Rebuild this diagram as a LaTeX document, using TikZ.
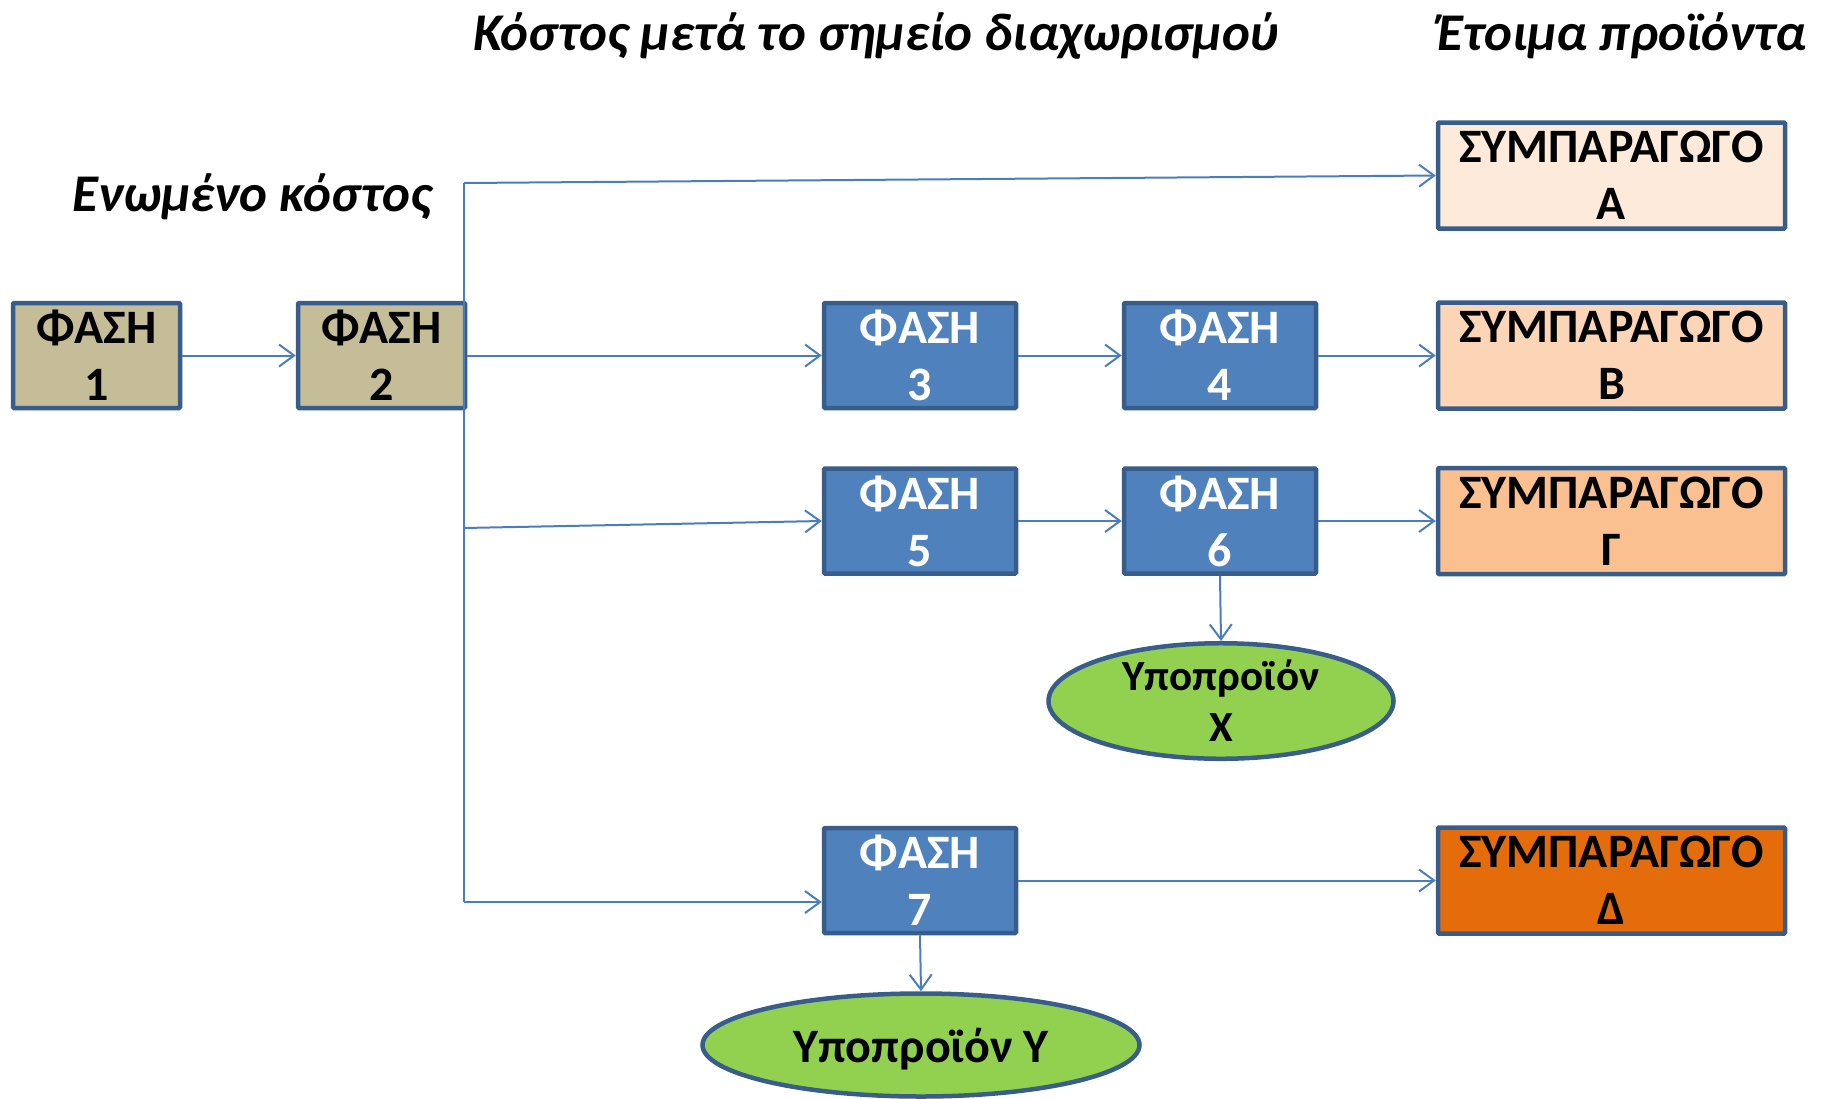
\documentclass[tikz,border=0pt]{standalone}
\usepackage{fontspec}
\setmainfont{Carlito}
\usetikzlibrary{arrows.meta,shapes.geometric}
\definecolor{bordc}{HTML}{385D8A}
\definecolor{linec}{HTML}{4A7EBB}
\definecolor{tanc}{HTML}{C4BD97}
\definecolor{bluec}{HTML}{4F81BD}
\definecolor{pa}{HTML}{FDEADA}
\definecolor{pb}{HTML}{FBD5B5}
\definecolor{pg}{HTML}{FAC090}
\definecolor{pd}{HTML}{E46C0A}
\definecolor{greenc}{HTML}{92D050}
\tikzset{
  boxbase/.style={draw=bordc, line width=4.5pt, inner sep=0pt, align=center,
    font=\fontsize{48}{57}\selectfont\bfseries, rounded corners=1pt},
  tanbox/.style={boxbase, fill=tanc, minimum width=167pt, minimum height=105pt},
  bluebox/.style={boxbase, fill=bluec, text=white, minimum width=192pt, minimum height=105pt},
  prodbox/.style={boxbase, minimum width=347pt, minimum height=106pt},
  byprod/.style={ellipse, draw=bordc, line width=4.5pt, fill=greenc, inner sep=0pt, align=center,
    font=\fontsize{43}{51}\selectfont\bfseries},
  conn/.style={draw=linec, line width=2pt, -{Straight Barb[length=15pt,width=22pt,line width=2pt]}},
  plain/.style={draw=linec, line width=2pt},
  heading/.style={font=\fontsize{53}{60}\selectfont\bfseries\itshape, inner sep=0pt}
}
\begin{document}
\begin{tikzpicture}[x=1pt,y=-1pt]
\useasboundingbox (0,0) rectangle (1829,1098);
% headings
\node[heading] (h1) at (876,36) {Κόστος μετά το σημείο διαχωρισμού};
\node[heading] (h2) at (1622,36) {Έτοιμα προϊόντα};
\node[heading] (h3) at (252,197) {Ενωμένο κόστος};
% boxes
\node[tanbox] (p1) at (96.5,355.5) {ΦΑΣΗ\\1};
\node[tanbox] (p2) at (381.5,355.5) {ΦΑΣΗ\\2};
\node[bluebox] (p3) at (920,355.5) {ΦΑΣΗ\\3};
\node[bluebox] (p4) at (1220,355.5) {ΦΑΣΗ\\4};
\node[bluebox] (p5) at (920,521) {ΦΑΣΗ\\5};
\node[bluebox] (p6) at (1220,521) {ΦΑΣΗ\\6};
\node[bluebox] (p7) at (920,880.5) {ΦΑΣΗ\\7};
\node[prodbox, fill=pa] (sA) at (1611.5,175.5) {ΣΥΜΠΑΡΑΓΩΓΟ\\Α};
\node[prodbox, fill=pb] (sB) at (1611.5,355.5) {ΣΥΜΠΑΡΑΓΩΓΟ\\Β};
\node[prodbox, fill=pg] (sG) at (1611.5,521) {ΣΥΜΠΑΡΑΓΩΓΟ\\Γ};
\node[prodbox, fill=pd] (sD) at (1611.5,880.5) {ΣΥΜΠΑΡΑΓΩΓΟ\\Δ};
\node[byprod, minimum width=345pt, minimum height=105pt] (bX) at (1221,701) {Υποπροϊόν\\Χ};
\node[byprod, minimum width=437pt, minimum height=103pt, text depth=0pt,
  font=\fontsize{48}{57}\selectfont\bfseries] (bY) at (921,1045) {Υποπροϊόν Υ};
% junction coordinates
\coordinate (jt) at (464,183);
\coordinate (j5) at (464,528);
\coordinate (j7) at (464,902);
% connectors
\draw[plain] (jt) -- (j7);
\draw[conn] (p1) -- (p2);
\draw[conn] (p2) -- (p3);
\draw[conn] (jt) -- (sA.west);
\draw[conn] (j5) -- (p5.west);
\draw[conn] (j7) -- (j7 -| p7.west);
\draw[conn] (p3) -- (p4);
\draw[conn] (p4) -- (sB);
\draw[conn] (p5) -- (p6);
\draw[conn] (p6) -- (sG);
\draw[conn] (p7) -- (sD);
\draw[conn] (p6.south) -- (bX.north);
\draw[conn] (p7.south) -- (bY.north);
\end{tikzpicture}
\end{document}
